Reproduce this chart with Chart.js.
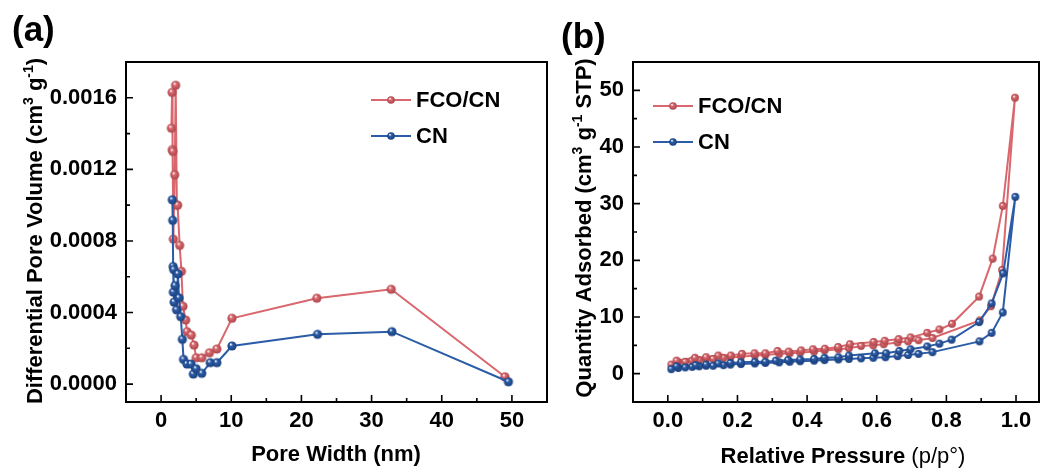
<!DOCTYPE html>
<html>
<head>
<meta charset="utf-8">
<script src="https://cdn.jsdelivr.net/npm/chart.js@4.4.1/dist/chart.umd.min.js"></script>
<style>
  body { margin: 0; background: #fff; }
  #wrap { position: relative; width: 1044px; height: 470px; }
  canvas { position: absolute; top: 0; }
  #poreChart { left: 0; }
  #isoChart { left: 556px; }
</style>
</head>
<body>
<div id="wrap">
  <canvas id="poreChart" width="556" height="470"></canvas>
  <canvas id="isoChart" width="488" height="470"></canvas>
</div>
<script>
// (a) pore size distribution
const fcoPoreW = [1.47, 1.57, 1.6, 1.68, 1.75, 1.94, 2.08, 2.25, 2.35, 2.65, 2.9, 3.12, 3.5, 3.7, 4.3, 4.7, 5.0, 5.8, 6.9, 7.95, 10.1, 22.2, 32.8, 49.0];
const fcoPoreV = [0.00143, 0.00163, 0.00131, 0.0013, 0.00081, 0.00117, 0.00167, 0.001, 0.001, 0.000775, 0.00063, 0.000435, 0.000358, 0.000293, 0.000274, 0.000218, 0.000147, 0.000147, 0.000175, 0.000196, 0.000368, 0.00048, 0.00053, 0.000041];
const cnPoreW = [1.6, 1.66, 1.72, 1.75, 1.8, 1.85, 2.0, 2.2, 2.4, 2.55, 2.8, 3.03, 3.2, 3.7, 4.26, 4.6, 5.0, 5.8, 7.0, 7.95, 10.1, 22.3, 32.9, 49.5];
const cnPoreV = [0.00103, 0.000915, 0.000657, 0.000514, 0.00064, 0.000458, 0.00055, 0.000415, 0.000616, 0.000482, 0.000377, 0.00025, 0.000138, 0.000112, 0.000112, 0.000056, 0.000086, 0.00006, 0.00012, 0.00012, 0.000213, 0.000278, 0.000293, 0.000013];
const poreXTicks = [0, 10, 20, 30, 40, 50];
const poreXMinor = [5, 15, 25, 35, 45];
const poreYTicks = [0, 0.0004, 0.0008, 0.0012, 0.0016];
const poreYMinor = [0.0002, 0.0006, 0.001, 0.0014];

// (b) N2 isotherms: adsorption then desorption branch
const fcoAdsP = [0.01, 0.03, 0.05, 0.07, 0.09, 0.11, 0.13, 0.16, 0.18, 0.21, 0.25, 0.28, 0.32, 0.35, 0.38, 0.42, 0.45, 0.49, 0.52, 0.555, 0.59, 0.62, 0.66, 0.69, 0.72, 0.76, 0.896, 0.928, 0.96, 0.997];
const fcoAdsQ = [1.6, 2.0, 2.1, 2.3, 2.4, 2.6, 2.6, 2.8, 2.9, 3.0, 3.2, 3.3, 3.5, 3.6, 3.7, 3.9, 4.1, 4.3, 4.5, 4.9, 5.0, 5.2, 5.5, 5.7, 5.9, 6.3, 9.4, 11.9, 18.3, 48.7];
const fcoDesP = [0.962, 0.933, 0.894, 0.816, 0.78, 0.745, 0.697, 0.663, 0.623, 0.591, 0.523, 0.489, 0.451, 0.417, 0.383, 0.347, 0.315, 0.28, 0.249, 0.213, 0.181, 0.145, 0.11, 0.078, 0.025];
const fcoDesQ = [29.6, 20.3, 13.6, 8.8, 7.8, 7.2, 6.4, 6.1, 5.8, 5.6, 5.2, 4.7, 4.4, 4.3, 4.1, 3.9, 4.0, 3.6, 3.6, 3.5, 3.2, 3.2, 2.9, 2.8, 2.3];
const cnAdsP = [0.01, 0.03, 0.05, 0.07, 0.09, 0.11, 0.13, 0.16, 0.18, 0.21, 0.25, 0.28, 0.32, 0.35, 0.38, 0.42, 0.45, 0.49, 0.52, 0.555, 0.59, 0.625, 0.66, 0.69, 0.72, 0.76, 0.895, 0.93, 0.962, 0.998];
const cnAdsQ = [0.8, 1.0, 1.1, 1.2, 1.3, 1.4, 1.4, 1.5, 1.6, 1.7, 1.8, 1.9, 2.0, 2.1, 2.2, 2.3, 2.4, 2.5, 2.6, 2.7, 2.8, 2.9, 3.1, 3.3, 3.5, 3.8, 5.7, 7.2, 10.8, 31.2];
const cnDesP = [0.963, 0.93, 0.894, 0.815, 0.78, 0.745, 0.697, 0.665, 0.627, 0.595, 0.52, 0.49, 0.45, 0.42, 0.38, 0.345, 0.31, 0.28, 0.25, 0.21, 0.18, 0.145, 0.11, 0.08, 0.025];
const cnDesQ = [17.7, 12.4, 9.1, 6.0, 5.3, 4.8, 4.3, 4.0, 3.6, 3.6, 3.2, 2.9, 2.8, 2.6, 2.5, 2.4, 2.3, 2.1, 2.1, 2.0, 1.9, 1.8, 1.6, 1.5, 1.3];
const isoXTicks = [0, 0.2, 0.4, 0.6, 0.8, 1.0];
const isoXMinor = [0.1, 0.3, 0.5, 0.7, 0.9];
const isoYTicks = [0, 10, 20, 30, 40, 50];
const isoYMinor = [5, 15, 25, 35, 45];

const FONT = '"Liberation Sans", Arial, sans-serif';
const RED = '#d9676d', RED_DARK = '#a9454b';
const BLUE = '#2b5ca7', BLUE_DARK = '#1a3f7c';

Chart.defaults.font.family = FONT;
Chart.defaults.font.size = 22;
Chart.defaults.font.weight = 'bold';
Chart.defaults.color = '#000';

const pts = (xs, ys) => xs.map((x, i) => ({ x: x, y: ys[i] }));

// little shaded balls like the Origin markers
function makeBall(color, dark, r) {
  const s = Math.ceil(2 * r + 2);
  const c = document.createElement('canvas');
  c.width = c.height = s;
  const g = c.getContext('2d');
  const cx = s / 2, cy = s / 2;
  const grd = g.createRadialGradient(cx - r * 0.3, cy - r * 0.4, r * 0.05, cx, cy, r);
  grd.addColorStop(0, '#ffffff');
  grd.addColorStop(0.35, color);
  grd.addColorStop(1, dark);
  g.fillStyle = grd;
  g.beginPath();
  g.arc(cx, cy, r, 0, Math.PI * 2);
  g.fill();
  return c;
}

// text with superscripts, centred on (x, y)
function richText(ctx, parts, x, y) {
  let total = 0;
  parts.forEach(p => { ctx.font = p[1]; total += ctx.measureText(p[0]).width; });
  let cx = x - total / 2;
  ctx.textAlign = 'left';
  ctx.textBaseline = 'middle';
  parts.forEach(p => {
    ctx.font = p[1];
    ctx.fillText(p[0], cx, y + (p[2] || 0));
    cx += ctx.measureText(p[0]).width;
  });
}

const decor = {
  id: 'decor',
  afterDraw(chart, args, o) {
    const { ctx, chartArea: a } = chart;
    const sx = chart.scales.x, sy = chart.scales.y;
    ctx.save();
    ctx.strokeStyle = '#000';
    ctx.lineWidth = 1.6;
    ctx.beginPath();
    const xt = (v, len) => { const p = sx.getPixelForValue(v); ctx.moveTo(p, a.bottom); ctx.lineTo(p, a.bottom - len); };
    const yt = (v, len) => { const p = sy.getPixelForValue(v); ctx.moveTo(a.left, p); ctx.lineTo(a.left + len, p); };
    o.xMajor.forEach(v => xt(v, 7));
    o.xMinor.forEach(v => xt(v, 4));
    o.yMajor.forEach(v => yt(v, 7));
    o.yMinor.forEach(v => yt(v, 4));
    ctx.stroke();
    ctx.lineWidth = 2;
    ctx.strokeRect(a.left, a.top, a.right - a.left, a.bottom - a.top);

    ctx.fillStyle = '#000';
    ctx.font = 'bold 35px ' + FONT;
    ctx.textAlign = 'left';
    ctx.textBaseline = 'alphabetic';
    ctx.fillText(o.panel[0], o.panel[1], o.panel[2]);

    richText(ctx, o.xTitle, o.xTitlePos[0], o.xTitlePos[1]);
    ctx.save();
    ctx.translate(o.yTitlePos[0], o.yTitlePos[1]);
    ctx.rotate(-Math.PI / 2);
    richText(ctx, o.yTitle, 0, 0);
    ctx.restore();

    // legend: line + ball + label
    const L = o.legend;
    chart.data.datasets.forEach((ds, i) => {
      const y = L.ys[i];
      ctx.strokeStyle = ds.borderColor;
      ctx.lineWidth = 2;
      ctx.beginPath();
      ctx.moveTo(L.x1, y);
      ctx.lineTo(L.x2, y);
      ctx.stroke();
      const b = L.balls[i];
      ctx.drawImage(b, (L.x1 + L.x2) / 2 - b.width / 2, y - b.height / 2);
      ctx.fillStyle = '#000';
      ctx.font = 'bold 22px ' + FONT;
      ctx.textAlign = 'left';
      ctx.textBaseline = 'middle';
      ctx.fillText(ds.label, L.tx, y + 1);
    });
    ctx.restore();
  }
};

const bold22 = 'bold 22px ' + FONT;
const sup14 = 'bold 14px ' + FONT;

function baseOptions(xr, yr, xTicks, yTicks, xFmt, yFmt, yWidth, padRight) {
  return {
    responsive: false,
    animation: false,
    devicePixelRatio: 1,
    layout: { padding: { top: 62, right: padRight, left: 0, bottom: 0 } },
    elements: { line: { tension: 0, borderWidth: 2 } },
    plugins: { legend: { display: false }, tooltip: { enabled: false } },
    scales: {
      x: {
        type: 'linear', min: xr[0], max: xr[1],
        grid: { display: false, drawTicks: false },
        border: { display: false },
        ticks: { padding: 6, callback: xFmt, maxRotation: 0 },
        afterBuildTicks: s => { s.ticks = xTicks.map(v => ({ value: v })); },
        afterFit: s => { s.height = 68; }
      },
      y: {
        min: yr[0], max: yr[1],
        grid: { display: false, drawTicks: false },
        border: { display: false },
        ticks: { padding: 9, callback: yFmt },
        afterBuildTicks: s => { s.ticks = yTicks.map(v => ({ value: v })); },
        afterFit: s => { s.width = yWidth; }
      }
    }
  };
}

// ---- chart (a)
const ballRedA = makeBall(RED, RED_DARK, 4.6);
const ballBlueA = makeBall(BLUE, BLUE_DARK, 4.6);
const optA = baseOptions([-5, 55], [-0.0001, 0.0018], poreXTicks, poreYTicks,
  v => String(v), v => v.toFixed(4), 126, 9);
optA.plugins.decor = {
  xMajor: poreXTicks, xMinor: poreXMinor, yMajor: poreYTicks, yMinor: poreYMinor,
  panel: ['(a)', 12, 41],
  xTitle: [['Pore Width (nm)', bold22]],
  xTitlePos: [336, 455],
  yTitle: [['Differential Pore Volume (cm', bold22], ['3', sup14, -7], [' g', bold22], ['-1', sup14, -7], [')', bold22]],
  yTitlePos: [36, 231],
  legend: { x1: 371, x2: 411, tx: 416, ys: [100, 136], balls: [makeBall(RED, RED_DARK, 3.8), makeBall(BLUE, BLUE_DARK, 3.8)] }
};
new Chart(document.getElementById('poreChart'), {
  type: 'line',
  data: {
    datasets: [
      { label: 'FCO/CN', data: pts(fcoPoreW, fcoPoreV), borderColor: RED, pointStyle: ballRedA, pointRadius: 4.6, order: 2 },
      { label: 'CN', data: pts(cnPoreW, cnPoreV), borderColor: BLUE, pointStyle: ballBlueA, pointRadius: 4.6, order: 1 }
    ]
  },
  options: optA,
  plugins: [decor]
});

// ---- chart (b)
const ballRedB = makeBall(RED, RED_DARK, 3.9);
const ballBlueB = makeBall(BLUE, BLUE_DARK, 3.9);
const optB = baseOptions([-0.1, 1.066], [-5, 55], isoXTicks, isoYTicks,
  v => v.toFixed(1), v => String(v), 77, 3);
optB.plugins.decor = {
  xMajor: isoXTicks, xMinor: isoXMinor, yMajor: isoYTicks, yMinor: isoYMinor,
  panel: ['(b)', 5, 48],
  xTitle: [['Relative Pressure ', bold22], ['(p/p\u00b0)', '22px ' + FONT]],
  xTitlePos: [287, 457],
  yTitle: [['Quantity Adsorbed (cm', bold22], ['3', sup14, -7], [' g', bold22], ['-1', sup14, -7], [' STP)', bold22]],
  yTitlePos: [29, 228],
  legend: { x1: 97, x2: 137, tx: 142, ys: [106, 142], balls: [makeBall(RED, RED_DARK, 3.8), makeBall(BLUE, BLUE_DARK, 3.8)] }
};
new Chart(document.getElementById('isoChart'), {
  type: 'line',
  data: {
    datasets: [
      { label: 'FCO/CN', data: pts(fcoAdsP, fcoAdsQ).concat(pts(fcoDesP, fcoDesQ)), borderColor: RED, pointStyle: ballRedB, pointRadius: 3.9, order: 2 },
      { label: 'CN', data: pts(cnAdsP, cnAdsQ).concat(pts(cnDesP, cnDesQ)), borderColor: BLUE, pointStyle: ballBlueB, pointRadius: 3.9, order: 1 }
    ]
  },
  options: optB,
  plugins: [decor]
});
</script>
</body>
</html>
